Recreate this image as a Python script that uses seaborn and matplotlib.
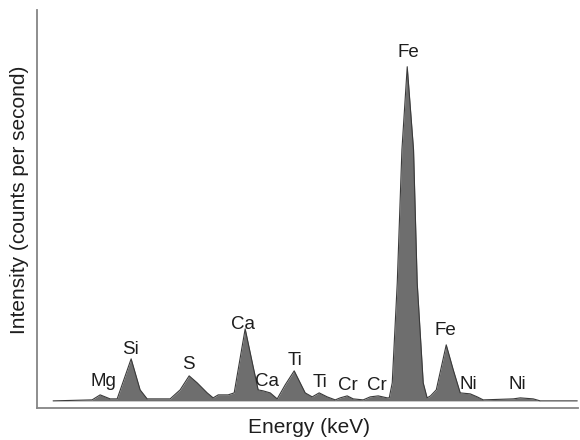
import matplotlib
matplotlib.use("Agg")
import matplotlib.pyplot as plt
import seaborn as sns
import pandas as pd

# --- Dados do espectro ---
energia_kev = [0.435, 1.096, 1.232, 1.401, 1.520, 1.757, 1.909, 2.028, 2.418, 2.587,
               2.740, 2.876, 3.045, 3.147, 3.232, 3.401, 3.503, 3.689, 3.825, 3.909,
               3.994, 4.113, 4.232, 4.367, 4.520, 4.706, 4.825, 4.943, 5.079, 5.215,
               5.299, 5.418, 5.520, 5.689, 5.808, 5.943, 6.096, 6.130, 6.181, 6.266,
               6.345, 6.435, 6.542, 6.604, 6.706, 6.772, 6.830, 6.927, 7.096, 7.215,
               7.333, 7.503, 7.621, 7.723, 8.232, 8.350, 8.570, 8.689, 9.316]
intensidade = [0, 3, 18, 6, 6, 126, 33, 6, 6, 33,
               75, 54, 24, 9, 18, 18, 24, 216, 102, 33,
               30, 24, 6, 48, 90, 24, 12, 24, 12, 3,
               9, 15, 6, 3, 12, 15, 9, 9, 54, 354,
               753, 1002, 753, 354, 54, 9, 15, 33, 168, 93,
               24, 21, 12, 3, 6, 9, 6, 0, 0]

# --- Rótulos dos picos ---
elementos = ["Fe", "Si", "Mg", "S", "Ca", "Ca", "Ti", "Ti", "Cr", "Cr", "Fe", "Ni", "Ni"]
pico_kev = [6.452, 1.740, 1.282, 2.723, 3.655, 4.062, 4.537, 4.960, 5.435, 5.926, 7.079, 7.469, 8.299]
pico_contagem = [1053, 162, 66, 117, 237, 66, 129, 63, 54, 54, 219, 57, 57]

df = pd.DataFrame({"Energia": energia_kev, "Intensidade": intensidade})

sns.set_theme(style="white")
plt.rcParams["font.family"] = ["Liberation Sans", "DejaVu Sans"]

fig = plt.figure(figsize=(5.8, 4.4), dpi=100)
ax = fig.add_axes([0.064, 0.073, 0.933, 0.905])

ax.fill_between(df["Energia"], df["Intensidade"], 0, color="#6e6e6e", linewidth=0)
sns.lineplot(data=df, x="Energia", y="Intensidade", ax=ax, color="#3a3a3a", linewidth=0.8)

for el, x, y in zip(elementos, pico_kev, pico_contagem):
    ax.text(x, y - 21, el, ha="center", va="baseline", fontsize=13.5, color="#1e1e1e")

ax.set_xlim(0.164, 9.333)
ax.set_ylim(-21, 1173)
ax.set_xticks([])
ax.set_yticks([])
ax.set_xlabel("Energy (keV)", fontsize=15, color="#1e1e1e")
ax.set_ylabel("Intensity (counts per second)", fontsize=15, color="#1e1e1e")
ax.xaxis.set_label_coords(0.503, -0.026)
ax.yaxis.set_label_coords(-0.015, 0.523)

for lado in ["top", "right"]:
    ax.spines[lado].set_visible(False)
for lado in ["left", "bottom"]:
    ax.spines[lado].set_color("#858585")
    ax.spines[lado].set_linewidth(1.3)

fig.savefig("out.png", dpi=100)
